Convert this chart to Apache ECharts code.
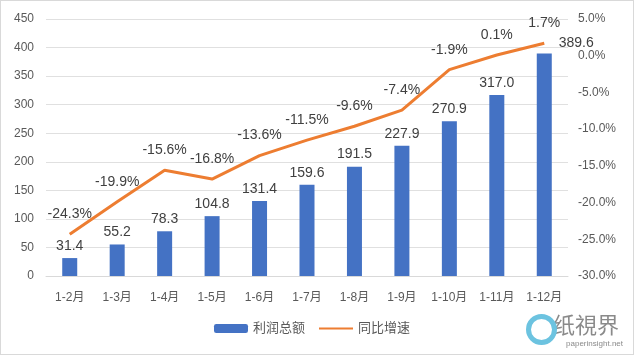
<!DOCTYPE html>
<html><head><meta charset="utf-8">
<script src="https://cdn.jsdelivr.net/npm/echarts@6/dist/echarts.min.js"></script>
<style>html,body{margin:0;padding:0;background:#fff}#c{width:634px;height:355px;box-sizing:border-box;border:1px solid #d9d9d9}</style>
</head><body><div id="c"></div>
<script>
const categories = ['1-2月','1-3月','1-4月','1-5月','1-6月','1-7月','1-8月','1-9月','1-10月','1-11月','1-12月'];
const profit = [31.4, 55.2, 78.3, 104.8, 131.4, 159.6, 191.5, 227.9, 270.9, 317.0, 389.6];
const growth = [-24.3, -19.9, -15.6, -16.8, -13.6, -11.5, -9.6, -7.4, -1.9, 0.1, 1.7];
const seriesNames = ['利润总额', '同比增速'];
const watermark = ['纸視界', 'paperinsight.net'];

const FONT = '"Liberation Sans","Noto Sans CJK SC",sans-serif';
const chart = echarts.init(document.getElementById('c'));
chart.setOption({
  animation: false,
  textStyle: {fontFamily: FONT},
  grid: {left: 45, right: 65, top: 18, bottom: 78},
  legend: {
    bottom: 14, left: 208, itemGap: 13, itemWidth: 34, itemHeight: 9,
    textStyle: {fontSize: 13, color: '#595959', fontFamily: FONT},
    data: [{name: seriesNames[0]}, {name: seriesNames[1], itemStyle: {opacity: 0}}]
  },
  xAxis: {
    type: 'category', data: categories,
    axisLine: {lineStyle: {color: '#d9d9d9'}}, axisTick: {show: false},
    axisLabel: {color: '#595959', fontSize: 12, margin: 16, interval: 0}
  },
  yAxis: [{
    type: 'value', min: 0, max: 450, interval: 50,
    axisLine: {show: false}, axisTick: {show: false},
    splitLine: {lineStyle: {color: '#e0e0e0'}},
    axisLabel: {color: '#595959', fontSize: 12, margin: 12}
  }, {
    type: 'value', min: -30, max: 5, interval: 5,
    axisLine: {show: false}, axisTick: {show: false}, splitLine: {show: false},
    axisLabel: {color: '#595959', fontSize: 12, margin: 10, formatter: v => v.toFixed(1) + '%'}
  }],
  series: [{
    name: seriesNames[0], type: 'bar', data: profit, barWidth: 15,
    itemStyle: {color: '#4472C4'},
    label: {show: true, position: 'top', distance: 5, fontSize: 14, color: '#404040', formatter: p => p.value.toFixed(1)},
    labelLayout: p => p.dataIndex === profit.length - 1 ? {dx: 32, dy: 2} : {}
  }, {
    name: seriesNames[1], type: 'line', yAxisIndex: 1, data: growth,
    symbol: 'circle', symbolSize: 0, showSymbol: true,
    lineStyle: {color: '#ED7D31', width: 3}, itemStyle: {color: '#ED7D31'},
    label: {show: true, position: 'top', distance: 13, fontSize: 14, color: '#404040', formatter: p => p.value.toFixed(1) + '%'},
    labelLayout: {hideOverlap: false}
  }],
  graphic: [
    {type: 'text', right: 14, bottom: 18, style: {text: watermark[0], fontSize: 22, fill: '#8a8a8a', fontFamily: '"Noto Sans CJK SC"'}},
    {type: 'text', right: 10, bottom: 6, style: {text: watermark[1], fontSize: 8, fill: '#8a8a8a'}},
    {type: 'circle', right: 76, bottom: 9, shape: {r: 13}, style: {fill: 'none', stroke: '#6cc3e0', lineWidth: 5}}
  ]
});
</script></body></html>
